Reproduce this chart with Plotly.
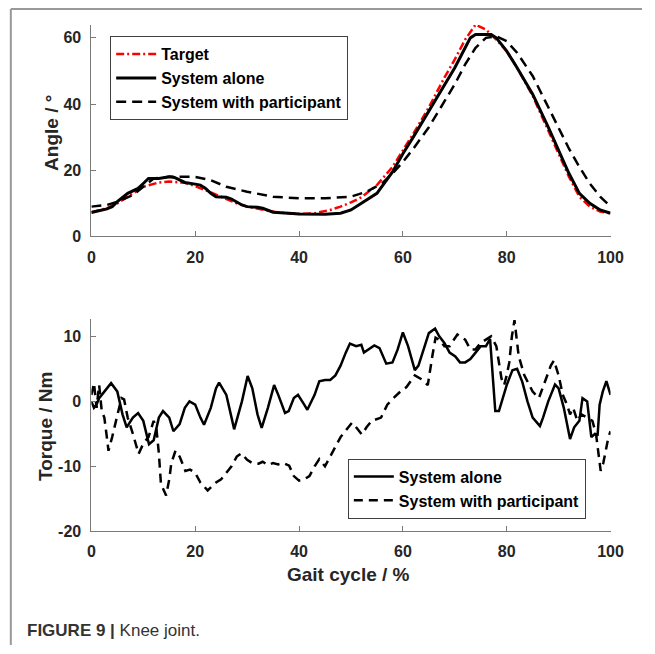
import plotly.graph_objects as go

W, H = 655, 654

# ---------------- Angle data (top panel) ----------------
TARGET_X = [0, 3, 5, 8, 10, 13, 15, 18, 20, 23, 25, 28, 30, 33, 36, 40, 43, 46, 48, 50,
            52, 55, 58, 60, 62, 65, 68, 70, 72, 74, 76, 78, 80, 82, 85, 88, 90, 92, 94, 96,
            98, 100]
TARGET_Y = [7.3, 8.5, 10, 13, 15, 16.3, 16.6, 16.2, 15.2, 13.3, 12, 10, 9, 8, 7.2, 6.8, 7, 8, 9, 10.3,
            11.8, 15.5, 21, 26, 31, 39, 48, 53.5, 59.5, 64, 62.5, 59.5, 56, 51, 42.5, 32, 25, 18, 12, 9,
            7.5, 7]

ALONE_X = [0, 2, 3, 4, 5, 7, 9, 10, 11, 13,
           15, 16, 17, 18, 20, 21, 22, 23, 24, 26,
           27, 28, 29, 30, 31, 32, 33, 34, 35, 38,
           40, 45, 48, 50, 52, 55, 58, 60, 62, 65,
           68, 70, 72, 73, 74, 77, 78, 80, 82, 85,
           88, 90, 92, 94, 96, 98, 100]
ALONE_Y = [7.2, 7.8, 8.3, 9, 10.5, 13, 14.5, 16, 17.5, 17.5,
           18, 17.8, 17, 16.3, 15.8, 15.5, 14.5, 13, 12, 11.8,
           11.3, 10.5, 9.5, 9, 9, 8.8, 8.5, 8, 7.3, 7,
           6.8, 6.7, 7, 8, 10, 13, 19.5, 25, 30, 38,
           46, 51, 57, 60, 61, 61, 60, 56, 51, 43,
           33, 26, 19, 13, 10, 8, 7]

PART_X = [0, 3, 5, 8, 10, 12, 15, 20, 23, 26,
          30, 35, 40, 45, 50, 53, 56, 58, 60, 62,
          65, 68, 70, 72, 74, 76, 78, 80, 82, 85,
          88, 90, 92, 94, 96, 98, 100]
PART_Y = [9, 9.5, 10.5, 12.5, 15, 17.5, 18, 18, 17, 15,
          13.5, 12, 11.5, 11.5, 12, 13.5, 16, 19, 22.5, 26.5,
          33, 41, 46, 52, 57, 60, 60.5, 59, 55.5, 48.5,
          39, 33, 26.5, 21, 16, 12, 9]

# ---------------- Torque data (bottom panel) ----------------
TS_X = [0, 0.5, 1, 1.5, 2, 3, 3.8, 5, 6, 6.8,
        8, 9, 10, 11.1, 12, 13, 13.8, 15, 15.8, 17,
        18, 18.9, 20, 21, 21.7, 23, 24, 24.6, 26, 27,
        27.5, 29, 30.1, 31, 32, 32.8, 34, 35.2, 36, 37.3,
        38, 39, 39.8, 41, 41.6, 43, 43.9, 45, 46, 47,
        48, 49, 49.8, 51, 52, 52.5, 53.5, 54.5, 55.5, 56.8,
        58, 59, 60, 61, 62.3, 63, 64, 65, 66.2, 67,
        68, 69, 70.1, 71, 72, 73, 74, 75, 76, 76.8,
        77.3, 77.8, 78.5, 79.2, 80, 81.1, 82, 83, 84, 85,
        86.4, 87, 88, 89.3, 90, 91, 92.2, 93, 94, 94.6,
        95.5, 96.3, 97, 97.5, 97.9, 98.5, 99.2, 100]
TS_Y = [0, -1, -0.5, 0.5, 1, 2, 2.8, 1.5, -2, -4,
        -2.5, -1.8, -3, -6.6, -6, -2.5, -1.5, -2.5, -4.6, -3.5,
        -1, 0, -0.5, -2.5, -3.6, -1, 2, 2.9, 1, -2.5,
        -4.3, 0, 3.9, 2, -2, -4.1, -1, 2.5, 1, -1.8,
        -1.5, 0.5, 1, -0.5, -1.3, 1, 3.1, 3.3, 3.3, 4,
        5.5, 7.5, 8.9, 8.5, 8.7, 7.5, 8, 8.6, 8.2, 5.8,
        6, 8, 10.6, 8.5, 4.8, 5.5, 8, 10.5, 11.2, 10,
        9, 7.5, 6.9, 6, 6, 6.5, 7.5, 8.5, 8.5, 9.6,
        4, -1.5, -1.5, 0.5, 2.5, 4.8, 5, 3, 0, -2.5,
        -3.8, -2.5, 0, 2.6, 2, -1, -5.8, -4, -3, 0.5,
        0, -5.5, -5, -5.3, -0.5, 1.5, 3.1, 1]

TD_X = [0, 0.5, 1, 1.5, 2, 2.5, 2.9, 3.3, 4, 5,
        5.8, 6.3, 7, 8, 8.6, 9.1, 10, 11, 12, 12.5,
        13, 13.4, 14.4, 15, 15.4, 16.2, 17, 18.1, 19, 20,
        21, 22.4, 24, 25, 26, 27, 28, 28.9, 30, 31,
        32.2, 33, 34, 35, 36, 37, 38.1, 39, 40, 41,
        42, 43, 43.9, 45, 46, 47, 48, 49, 50.2, 51,
        52.1, 53, 54, 55.8, 57, 58.2, 59.5, 60.7, 62.3, 63.8,
        64.8, 65.7, 66.3, 67, 68, 69, 70.5, 71, 72, 73,
        74, 75, 76, 77, 78, 78.5, 79, 79.5, 80, 80.5,
        81, 81.5, 82.3, 83.4, 85, 86.2, 87.3, 88.5, 89.1, 90,
        90.8, 91.6, 92.2, 92.8, 93.6, 94.4, 95.5, 96.5, 97.2, 97.6,
        98.1, 98.6, 99.1, 99.6, 100]
TD_Y = [1, 2.8, -1, 2.5, -1.5, -2.5, -5, -7.6, -5.5, -2,
        0.5, 0.3, -2.5, -5, -6.9, -8.1, -6.5, -5.5, -3, -4,
        -8, -12.7, -14.5, -12, -9.5, -7.6, -8.5, -10.7, -10.5, -11,
        -12.5, -13.7, -12.5, -12, -11, -10, -8.5, -8, -9, -9.5,
        -9.6, -9.3, -9.8, -9.5, -9.7, -9.5, -9.9, -11.5, -12.2, -12,
        -11.5, -10, -8.9, -10, -8.5, -7, -5.5, -4.5, -3.3, -4,
        -5.1, -4, -3, -2.5, -0.5, 0.5, 1.5, 2.2, 4, 3.3,
        2.5, 7.1, 9.8, 9.5, 8.5, 8.5, 10.3, 10, 9.5, 8,
        8, 9, 9.5, 10, 8.5, 6, 3.5, 2.5, 4, 6,
        10, 12.5, 7, 4, 1.5, 0.5, 3, 5.5, 6.3, 4,
        1, -0.5, -2, -1, -3, -2, -2.5, -3, -5, -8,
        -10.7, -9.5, -7.4, -5.5, -4.6]

X_TICKS = [0, 20, 40, 60, 80, 100]
ANGLE_TICKS = [0, 20, 40, 60]
TORQUE_TICKS = [-20, -10, 0, 10]
TORQUE_TICK_TEXT = ["-20", "-10", "0", "10"]

FONT = "Liberation Sans, Arial, sans-serif"


def px_x(p):
    return p / W


def px_y(p):
    return 1 - p / H


fig = go.Figure()

fig.add_trace(go.Scatter(x=TARGET_X, y=TARGET_Y, mode="lines", name="Target",
                         line=dict(color="#ff0000", width=2.5, dash="8px,3px,2px,3px"),
                         xaxis="x", yaxis="y", legend="legend"))
fig.add_trace(go.Scatter(x=ALONE_X, y=ALONE_Y, mode="lines", name="System alone",
                         line=dict(color="black", width=3),
                         xaxis="x", yaxis="y", legend="legend"))
fig.add_trace(go.Scatter(x=PART_X, y=PART_Y, mode="lines", name="System with participant",
                         line=dict(color="black", width=2.5, dash="10px,6px"),
                         xaxis="x", yaxis="y", legend="legend"))

fig.add_trace(go.Scatter(x=TS_X, y=TS_Y, mode="lines", name="System alone",
                         line=dict(color="black", width=2.5),
                         xaxis="x2", yaxis="y2", legend="legend2"))
fig.add_trace(go.Scatter(x=TD_X, y=TD_Y, mode="lines", name="System with participant",
                         line=dict(color="black", width=2.5, dash="9px,6px"),
                         xaxis="x2", yaxis="y2", legend="legend2"))

axis_common = dict(showline=True, linecolor="#7a7a7a", linewidth=1, ticks="inside",
                   ticklen=5, tickcolor="#7a7a7a", showgrid=False, zeroline=False,
                   tickfont=dict(family=FONT, size=16, color="#262626", weight="bold"),
                   mirror=False, ticklabelstandoff=6)

legend_common = dict(xanchor="left", yanchor="top", bordercolor="#404040", borderwidth=1,
                     bgcolor="white",
                     font=dict(family=FONT, size=16, color="black", weight="bold"),
                     itemwidth=40, tracegroupgap=0)

xdom = [px_x(89.7), px_x(622.7)]
fig.update_layout(
    width=W, height=H,
    margin=dict(l=0, r=0, t=0, b=0),
    paper_bgcolor="white", plot_bgcolor="white",
    xaxis=dict(domain=xdom, anchor="y", range=[0, 100], tickvals=X_TICKS, **axis_common),
    yaxis=dict(domain=[px_y(239.7), px_y(25)], anchor="x", range=[0, 64],
               tickvals=ANGLE_TICKS, **axis_common),
    xaxis2=dict(domain=xdom, anchor="y2", range=[0, 100], tickvals=X_TICKS, **axis_common),
    yaxis2=dict(domain=[px_y(538.7), px_y(323.3)], anchor="x2", range=[-20, 12.7],
                tickvals=TORQUE_TICKS, ticktext=TORQUE_TICK_TEXT, **axis_common),
    legend=dict(x=px_x(109), y=px_y(36.7), **legend_common),
    legend2=dict(x=px_x(353), y=px_y(465), **legend_common),
    showlegend=True,
)

title_font = dict(family=FONT, size=19, color="#262626", weight="bold")
fig.add_annotation(text="Angle / °", x=px_x(48), y=px_y(135), xref="paper", yref="paper",
                   showarrow=False, textangle=-90, font=title_font,
                   xanchor="center", yanchor="middle")
fig.add_annotation(text="Torque / Nm", x=px_x(42), y=px_y(432), xref="paper", yref="paper",
                   showarrow=False, textangle=-90, font=title_font,
                   xanchor="center", yanchor="middle")
fig.add_annotation(text="Gait cycle / %", x=px_x(354), y=px_y(583), xref="paper", yref="paper",
                   showarrow=False, font=title_font, xanchor="center", yanchor="middle")
fig.add_annotation(text="<b>FIGURE 9 |</b> Knee joint.", x=px_x(21.7), y=px_y(639),
                   xref="paper", yref="paper", showarrow=False,
                   font=dict(family=FONT, size=17, color="#333333"),
                   xanchor="left", yanchor="middle")

# page frame (grey rule at top and left)
fig.add_shape(type="line", xref="paper", yref="paper", x0=px_x(7), x1=1.0,
              y0=px_y(9), y1=px_y(9), line=dict(color="#999999", width=2))
fig.add_shape(type="line", xref="paper", yref="paper", x0=px_x(7), x1=px_x(7),
              y0=px_y(9), y1=0.0, line=dict(color="#999999", width=2))

fig.write_html("out.html",
               config={"displayModeBar": False},
               post_script="document.body.style.margin='0';"
                           "document.body.style.overflow='hidden';")
